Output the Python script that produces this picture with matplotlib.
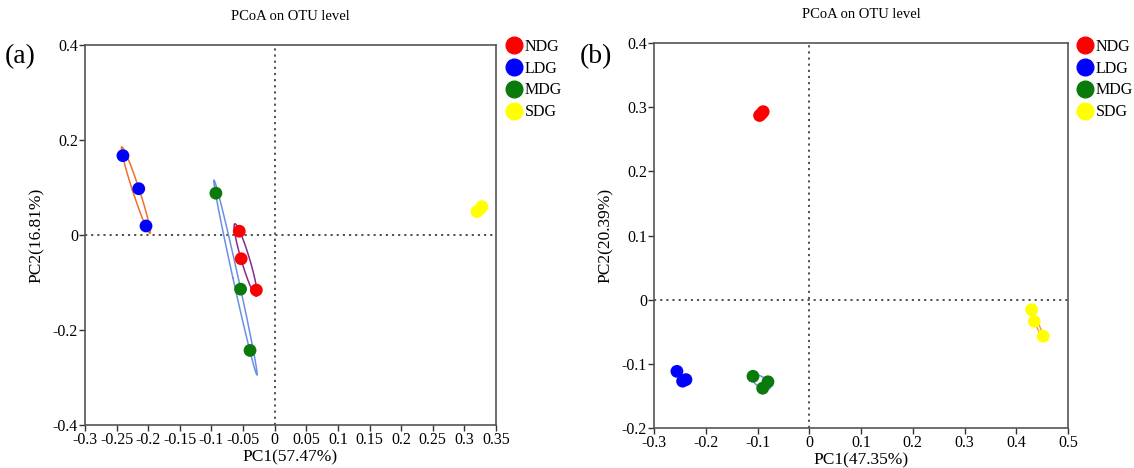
import numpy as np
import matplotlib
matplotlib.use("Agg")
import matplotlib.pyplot as plt
from matplotlib.lines import Line2D

plt.rcParams['font.family'] = ['Liberation Serif', 'DejaVu Serif']

groups = ["NDG", "LDG", "MDG", "SDG"]
point_colors = ["#FF0000", "#0000FF", "#0A7A0A", "#FFFF00"]
ellipse_colors = ["#8B2A8B", "#F0702A", "#6A90E8", "#F0A030"]

# Panel (a) PCoA coordinates
a_pc1 = {
    "NDG": [-0.056, -0.053, -0.029],
    "LDG": [-0.240, -0.215, -0.2035],
    "MDG": [-0.093, -0.054, -0.039],
    "SDG": [0.320, 0.3277, 0.325],
}
a_pc2 = {
    "NDG": [0.008, -0.050, -0.116],
    "LDG": [0.167, 0.0975, 0.019],
    "MDG": [0.088, -0.114, -0.243],
    "SDG": [0.049, 0.0596, 0.055],
}
# Panel (b) PCoA coordinates
b_pc1 = {
    "NDG": [-0.096, -0.092, -0.089],
    "LDG": [-0.2557, -0.2447, -0.2383],
    "MDG": [-0.1087, -0.0798, -0.090],
    "SDG": [0.4296, 0.4348, 0.452],
}
b_pc2 = {
    "NDG": [0.287, 0.290, 0.293],
    "LDG": [-0.1117, -0.127, -0.1246],
    "MDG": [-0.1194, -0.128, -0.138],
    "SDG": [-0.0156, -0.0338, -0.057],
}

a_xticks = [-0.3, -0.25, -0.2, -0.15, -0.1, -0.05, 0, 0.05, 0.1, 0.15, 0.2, 0.25, 0.3, 0.35]
a_xticklabels = ["-0.3", "-0.25", "-0.2", "-0.15", "-0.1", "-0.05", "0", "0.05", "0.1",
                 "0.15", "0.2", "0.25", "0.3", "0.35"]
a_yticks = [-0.4, -0.2, 0, 0.2, 0.4]
a_yticklabels = ["-0.4", "-0.2", "0", "0.2", "0.4"]
b_xticks = [-0.3, -0.2, -0.1, 0, 0.1, 0.2, 0.3, 0.4, 0.5]
b_xticklabels = ["-0.3", "-0.2", "-0.1", "0", "0.1", "0.2", "0.3", "0.4", "0.5"]
b_yticks = [-0.2, -0.1, 0, 0.1, 0.2, 0.3, 0.4]
b_yticklabels = ["-0.2", "-0.1", "0", "0.1", "0.2", "0.3", "0.4"]

W, H = 1134, 468
fig = plt.figure(figsize=(W / 100, H / 100), dpi=100)


def add_ax(l, t, r, b):
    return fig.add_axes([l / W, 1 - b / H, (r - l) / W, (b - t) / H])


def ellipse(xs, ys, k=1.23, n=200):
    pts = np.column_stack([xs, ys])
    c = pts.mean(axis=0)
    cov = np.cov(pts, rowvar=False)
    vals, vecs = np.linalg.eigh(cov)
    vals = np.clip(vals, 1e-12, None)
    t = np.linspace(0, 2 * np.pi, n)
    e = (k * np.sqrt(vals[0]) * np.outer(np.cos(t), vecs[:, 0])
         + k * np.sqrt(vals[1]) * np.outer(np.sin(t), vecs[:, 1]))
    return c[0] + e[:, 0], c[1] + e[:, 1]


def draw_panel(ax, pc1, pc2, xlim, ylim, xt, xtl, yt, ytl, xlabel, ylabel, letter, lx, legx):
    ax.axhline(0, color="#444444", ls=(0, (1.2, 2.2)), lw=1.3, zorder=1)
    ax.axvline(0, color="#444444", ls=(0, (1.2, 2.2)), lw=1.3, zorder=1)
    for g, pc, ec in zip(groups, point_colors, ellipse_colors):
        ex, ey = ellipse(pc1[g], pc2[g])
        ax.plot(ex, ey, color=ec, lw=1.1, zorder=2)
    for g, pc in zip(groups, point_colors):
        ax.scatter(pc1[g], pc2[g], s=85, color=pc, edgecolors="none", zorder=3)
    ax.set_xlim(*xlim)
    ax.set_ylim(*ylim)
    ax.set_xticks(xt)
    ax.set_xticklabels(xtl)
    ax.set_yticks(yt)
    ax.set_yticklabels(ytl)
    ax.tick_params(direction="out", length=4, width=1, colors="#333333",
                   labelsize=11.5, labelcolor="black", pad=1)
    for s in ax.spines.values():
        s.set_color("#555555")
        s.set_linewidth(1.2)
    ax.set_xlabel(xlabel, fontsize=12.5, labelpad=1)
    ax.set_ylabel(ylabel, fontsize=12.5, labelpad=6)
    ax.set_title("PCoA on OTU level", fontsize=10.5, pad=18)
    handles = [Line2D([], [], marker="o", ls="none", color=c, markersize=12) for c in point_colors]
    ax.legend(handles, groups, loc="upper left", bbox_to_anchor=(legx / W, 1 - 39 / H),
              bbox_transform=fig.transFigure,
              frameon=False, fontsize=11.5, handletextpad=0.0, labelspacing=0.36,
              borderaxespad=0, borderpad=0, handlelength=1.3)
    fig.text(lx, 1 - 57 / H, letter, fontsize=20, ha="center", va="center")


ax_a = add_ax(85, 45, 496, 425)
draw_panel(ax_a, a_pc1, a_pc2, (-0.3, 0.35), (-0.4, 0.4), a_xticks, a_xticklabels,
           a_yticks, a_yticklabels, "PC1(57.47%)", "PC2(16.81%)", "(a)", 20 / W, 504)
ax_b = add_ax(654, 43, 1068, 428)
draw_panel(ax_b, b_pc1, b_pc2, (-0.3, 0.5), (-0.2, 0.4), b_xticks, b_xticklabels,
           b_yticks, b_yticklabels, "PC1(47.35%)", "PC2(20.39%)", "(b)", 596 / W, 1075)

fig.savefig("out.png", dpi=100)
